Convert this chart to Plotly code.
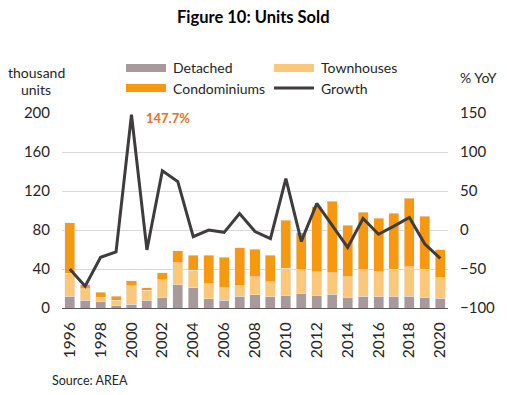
import plotly.graph_objects as go

years = list(range(1996, 2021))
detached = [12, 8, 7, 3, 4, 8, 11, 24, 21, 9.5, 8, 12, 13.5, 11.5, 13, 15, 13, 14, 11, 12.3, 12, 12, 12, 11, 10]
townhouses = [23.5, 12, 4, 5, 19, 10, 18, 22.5, 17.5, 15.5, 13, 11, 18.5, 15.5, 28, 24, 24, 22, 21, 26.7, 25, 28, 30.5, 29, 21]
condominiums = [52, 4, 5, 4, 5, 3, 7, 12, 15.5, 29, 31, 39, 28.5, 27, 49, 38, 67, 73.4, 53, 59, 55, 57, 70, 54, 29]
growth = [-50, -72, -35, -28, 147.7, -25.5, 76, 62, -8.5, 0, -3, 21, -2, -11, 66, -14.5, 34, 6, -22.3, 14.8, -5.4, 5, 16, -18, -36.5]

left_ticks = [0, 40, 80, 120, 160, 200]
right_ticks = [-100, -50, 0, 50, 100, 150]
x_ticks = list(range(1996, 2021, 2))

C_DET = "#A8999A"
C_TOWN = "#FAC878"
C_CONDO = "#F7980F"
C_GROW = "#403B3C"
FONT = "Lato"
TXT = "#262626"

W, H = 507, 395
ml, mr, mt, mb = 62, 59, 113, 87
pw, ph = W - ml - mr, H - mt - mb


def px2paper(x, y):
    return (x - ml) / pw, (H - mb - y) / ph


fig = go.Figure()
fig.add_trace(go.Bar(x=years, y=detached, name="Detached", marker_color=C_DET, width=0.65, showlegend=False))
fig.add_trace(go.Bar(x=years, y=townhouses, name="Townhouses", marker_color=C_TOWN, width=0.65, showlegend=False))
fig.add_trace(go.Bar(x=years, y=condominiums, name="Condominiums", marker_color=C_CONDO, width=0.65, showlegend=False))
fig.add_trace(go.Scatter(x=years, y=growth, name="Growth", mode="lines", yaxis="y2",
                         line=dict(color=C_GROW, width=3), showlegend=False))

fig.update_layout(
    width=W, height=H,
    margin=dict(l=ml, r=mr, t=mt, b=mb, autoexpand=False),
    barmode="stack",
    plot_bgcolor="white", paper_bgcolor="white",
    font=dict(family=FONT, color=TXT, size=14),
    showlegend=False,
    xaxis=dict(range=[1995.5, 2020.5], tickvals=x_ticks, ticktext=[str(v) for v in x_ticks],
               tickangle=-90, showgrid=False, showline=True, linecolor="#595959", linewidth=1,
               ticks="", ticklabelstandoff=7, tickfont=dict(size=15.5, family=FONT, color=TXT)),
    yaxis=dict(range=[0, 200], tickvals=left_ticks, showgrid=True, gridcolor="#D9D9D9", gridwidth=1,
               zeroline=False, ticks="", ticklabelstandoff=11, tickfont=dict(size=15, family=FONT, color=TXT)),
    yaxis2=dict(range=[-100, 150], tickvals=right_ticks, overlaying="y", side="right", showgrid=False,
                zeroline=False, ticks="", ticklabelstandoff=11, tickfont=dict(size=15, family=FONT, color=TXT)),
)

# Title
tx, ty = px2paper(253, 17)
fig.add_annotation(x=tx, y=ty, xref="paper", yref="paper", text="<b>Figure 10: Units Sold</b>",
                   showarrow=False, yanchor="middle", font=dict(size=16.5, family=FONT, color="#000000"))

# Manual legend
legend_items = [
    ("Detached", C_DET, "bar", 126, 68),
    ("Townhouses", C_TOWN, "bar", 274, 68),
    ("Condominiums", C_CONDO, "bar", 126, 88),
    ("Growth", C_GROW, "line", 274, 88),
]
shapes = []
for name, col, kind, lx, ly in legend_items:
    x0, y0 = px2paper(lx, ly - 4)
    x1, y1 = px2paper(lx + 40, ly + 4)
    if kind == "bar":
        shapes.append(dict(type="rect", xref="paper", yref="paper", x0=x0, x1=x1, y0=y0, y1=y1,
                           fillcolor=col, line=dict(width=0)))
    else:
        _, ym = px2paper(lx, ly)
        shapes.append(dict(type="line", xref="paper", yref="paper", x0=x0, x1=x1, y0=ym, y1=ym,
                           line=dict(color=col, width=3)))
    xp, yp = px2paper(lx + 45, ly)
    fig.add_annotation(x=xp, y=yp, xref="paper", yref="paper", text=name, showarrow=False,
                       xanchor="left", yanchor="middle", font=dict(size=14, family=FONT, color=TXT))
fig.update_layout(shapes=shapes)

for text, x, y in [("thousand", 36, 72), ("units", 36, 89), ("% YoY", 478, 77)]:
    xp, yp = px2paper(x, y)
    fig.add_annotation(x=xp, y=yp, xref="paper", yref="paper", text=text, showarrow=False,
                       xanchor="center", yanchor="middle", font=dict(size=14, family=FONT, color=TXT))

# Peak label
fig.add_annotation(x=2000, y=growth[4], xref="x", yref="y2", text="<b>147.7%</b>", showarrow=False,
                   xanchor="left", yanchor="middle", xshift=13, yshift=-3,
                   font=dict(size=13, family=FONT, color="#E0702A"))

sx, sy = px2paper(50, 380)
fig.add_annotation(x=sx, y=sy, xref="paper", yref="paper", text="Source: AREA", showarrow=False,
                   xanchor="left", yanchor="middle", font=dict(size=12.5, family=FONT, color=TXT))

fig.write_html("out.html", config={"displayModeBar": False},
               post_script="document.body.style.margin='0';document.body.style.padding='0';")
